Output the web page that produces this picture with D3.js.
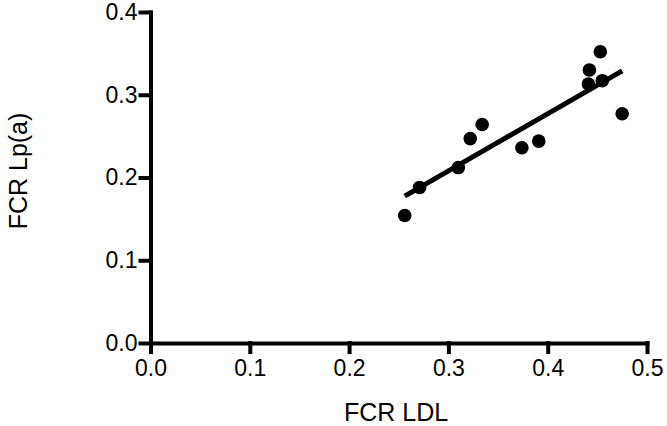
<!DOCTYPE html>
<html>
<head>
<meta charset="utf-8">
<script src="https://cdn.jsdelivr.net/npm/d3@7"></script>
<style>
  html, body { margin: 0; padding: 0; background: #fff; }
  svg { display: block; }
  .title { font-family: "Liberation Sans", Arial, Helvetica, sans-serif; font-size: 25px; fill: #000; }
</style>
</head>
<body>
<div id="chart"></div>
<script>
// values
const fcrLdl = [0.256, 0.271, 0.310, 0.322, 0.334, 0.374, 0.391, 0.441, 0.442, 0.453, 0.455, 0.475];
const fcrLpa = [0.154, 0.188, 0.212, 0.247, 0.264, 0.236, 0.244, 0.313, 0.330, 0.352, 0.317, 0.277];
const xTicks = [0, 0.1, 0.2, 0.3, 0.4, 0.5];
const yTicks = [0, 0.1, 0.2, 0.3, 0.4];
const xLabel = `FCR LDL`;
const yLabel = `FCR Lp(a)`;

const width = 667;
const height = 426;

const svg = d3.select(`#chart`).append(`svg`)
    .attr(`width`, width)
    .attr(`height`, height);

const x = d3.scaleLinear().domain([0, 0.5]).range([150.5, 647]);
const y = d3.scaleLinear().domain([0, 0.4]).range([343, 12]);

const styleAxis = (g) => {
  g.selectAll(`line, path`)
      .style(`stroke`, `#000`)
      .style(`stroke-width`, `4px`)
      .style(`stroke-linecap`, `square`);
  g.selectAll(`text`)
      .style(`font-family`, `"Liberation Sans", Arial, Helvetica, sans-serif`)
      .style(`font-size`, `23px`)
      .style(`fill`, `#000`);
};

svg.append(`g`)
    .attr(`class`, `axis axis--x`)
    .attr(`transform`, `translate(0,${y(0)})`)
    .call(d3.axisBottom(x).tickValues(xTicks).tickFormat(d3.format(`.1f`)).tickSize(9).tickSizeOuter(0).tickPadding(8))
    .call(styleAxis);

svg.append(`g`)
    .attr(`class`, `axis axis--y`)
    .attr(`transform`, `translate(${x(0)},0)`)
    .call(d3.axisLeft(y).tickValues(yTicks).tickFormat(d3.format(`.1f`)).tickSize(10).tickSizeOuter(0).tickPadding(3))
    .call(styleAxis);

// least squares fit through the points
const pts = fcrLdl.map((d, i) => [d, fcrLpa[i]]);
const mx = d3.mean(fcrLdl);
const my = d3.mean(fcrLpa);
const slope = d3.sum(pts, (p) => (p[0] - mx) * (p[1] - my)) / d3.sum(pts, (p) => (p[0] - mx) * (p[0] - mx));
const intercept = my - slope * mx;
const ext = d3.extent(fcrLdl);

svg.append(`line`)
    .attr(`x1`, x(ext[0]))
    .attr(`y1`, y(intercept + slope * ext[0]))
    .attr(`x2`, x(ext[1]))
    .attr(`y2`, y(intercept + slope * ext[1]))
    .attr(`stroke`, `#000`)
    .attr(`stroke-width`, 5);

svg.selectAll(`circle.dot`)
    .data(pts)
  .enter().append(`circle`)
    .attr(`class`, `dot`)
    .attr(`cx`, (d) => x(d[0]))
    .attr(`cy`, (d) => y(d[1]))
    .attr(`r`, 6.8)
    .attr(`fill`, `#000`);

svg.append(`text`)
    .attr(`class`, `title`)
    .attr(`x`, 396)
    .attr(`y`, 421)
    .attr(`text-anchor`, `middle`)
    .text(xLabel);

svg.append(`text`)
    .attr(`class`, `title`)
    .attr(`transform`, `translate(27,171) rotate(-90)`)
    .attr(`text-anchor`, `middle`)
    .text(yLabel);
</script>
</body>
</html>
